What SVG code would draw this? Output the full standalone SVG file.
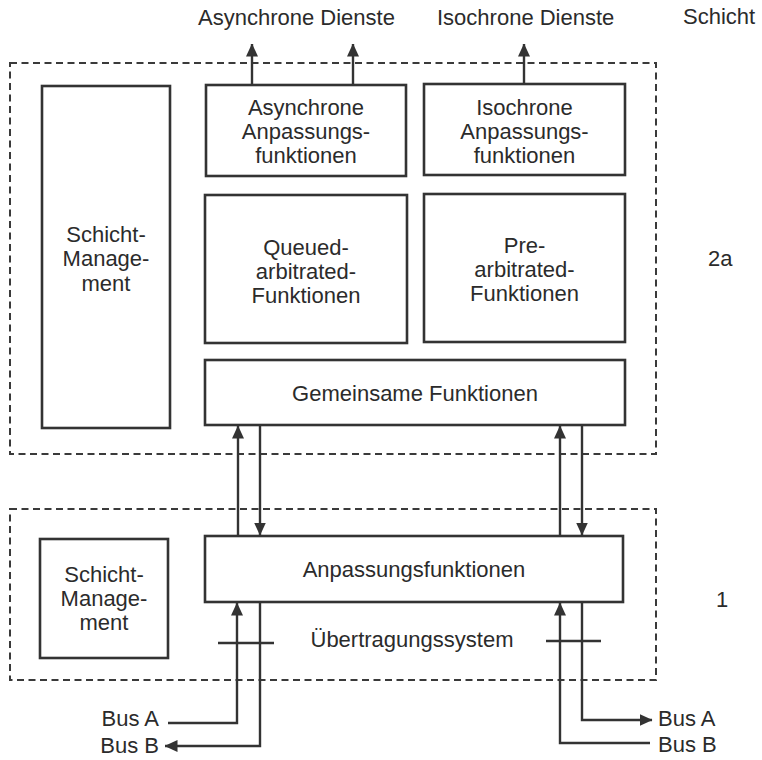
<svg xmlns="http://www.w3.org/2000/svg" width="762" height="760" viewBox="0 0 762 760">
  <style>
    .frame { fill: none; stroke: #3a3a3a; stroke-width: 2; stroke-dasharray: 7 4.5; }
    .box { fill: #ffffff; stroke: #333333; stroke-width: 2.6; }
    .wire { fill: none; stroke: #333333; stroke-width: 2.4; }
    .lbl { font-family: "Liberation Sans", Arial, sans-serif; font-size: 22px; fill: #2b2b2b; }
    .mid { text-anchor: middle; }
    .end { text-anchor: end; }
  </style>
  <defs>
    <marker id="arrow" viewBox="0 0 13 12" refX="12.5" refY="6" markerWidth="13" markerHeight="12" markerUnits="userSpaceOnUse" orient="auto">
      <path d="M0,0 L13,6 L0,12 Z" fill="#333333"/>
    </marker>
  </defs>

  <rect width="762" height="760" fill="#ffffff"/>

  <!-- layer frames -->
  <g id="layers">
    <rect class="frame" x="10" y="63" width="646" height="391"/>
    <rect class="frame" x="10" y="509" width="646" height="171"/>
  </g>

  <!-- headings and layer labels -->
  <g id="headings" class="lbl">
    <text x="198" y="25">Asynchrone Dienste</text>
    <text x="437" y="25">Isochrone Dienste</text>
    <text x="683" y="24">Schicht</text>
    <text x="708" y="266">2a</text>
    <text x="716" y="607">1</text>
  </g>

  <!-- layer 2a -->
  <g id="mgmt2a">
    <rect class="box" x="42" y="86" width="128" height="342"/>
    <text class="lbl mid" x="106" y="242">Schicht-</text>
    <text class="lbl mid" x="106" y="266">Manage-</text>
    <text class="lbl mid" x="106" y="291">ment</text>
  </g>
  <g id="async">
    <rect class="box" x="206" y="85" width="200" height="91"/>
    <text class="lbl mid" x="306" y="115">Asynchrone</text>
    <text class="lbl mid" x="306" y="139">Anpassungs-</text>
    <text class="lbl mid" x="306" y="163">funktionen</text>
  </g>
  <g id="iso">
    <rect class="box" x="424" y="84" width="201" height="91"/>
    <text class="lbl mid" x="524.5" y="115">Isochrone</text>
    <text class="lbl mid" x="524.5" y="139">Anpassungs-</text>
    <text class="lbl mid" x="524.5" y="163">funktionen</text>
  </g>
  <g id="queued">
    <rect class="box" x="205" y="195" width="202" height="148"/>
    <text class="lbl mid" x="306" y="255">Queued-</text>
    <text class="lbl mid" x="306" y="279">arbitrated-</text>
    <text class="lbl mid" x="306" y="303">Funktionen</text>
  </g>
  <g id="pre">
    <rect class="box" x="424" y="194" width="201" height="148"/>
    <text class="lbl mid" x="524.5" y="253">Pre-</text>
    <text class="lbl mid" x="524.5" y="277">arbitrated-</text>
    <text class="lbl mid" x="524.5" y="301">Funktionen</text>
  </g>
  <g id="common">
    <rect class="box" x="205" y="360" width="420" height="65"/>
    <text class="lbl mid" x="415" y="401">Gemeinsame Funktionen</text>
  </g>

  <!-- layer 1 -->
  <g id="mgmt1">
    <rect class="box" x="40" y="539" width="128" height="119"/>
    <text class="lbl mid" x="104" y="582">Schicht-</text>
    <text class="lbl mid" x="104" y="606">Manage-</text>
    <text class="lbl mid" x="104" y="630">ment</text>
  </g>
  <g id="adapt">
    <rect class="box" x="205" y="536" width="418" height="66"/>
    <text class="lbl mid" x="414" y="577">Anpassungsfunktionen</text>
  </g>
  <g id="medium">
    <text class="lbl mid" x="412" y="647">Übertragungssystem</text>
  </g>

  <!-- connectors -->
  <g id="connectors">
    <line class="wire" x1="252" y1="85" x2="252" y2="44" marker-end="url(#arrow)"/>
    <line class="wire" x1="353" y1="85" x2="353" y2="44" marker-end="url(#arrow)"/>
    <line class="wire" x1="524" y1="84" x2="524" y2="44" marker-end="url(#arrow)"/>

    <line class="wire" x1="238" y1="536" x2="238" y2="426" marker-end="url(#arrow)"/>
    <line class="wire" x1="260" y1="426" x2="260" y2="535" marker-end="url(#arrow)"/>
    <line class="wire" x1="560" y1="536" x2="560" y2="426" marker-end="url(#arrow)"/>
    <line class="wire" x1="582" y1="426" x2="582" y2="535" marker-end="url(#arrow)"/>

    <path class="wire" d="M168,723 H237 V603" marker-end="url(#arrow)"/>
    <path class="wire" d="M260,602 V746 H165" marker-end="url(#arrow)"/>
    <path class="wire" d="M650,743 H560 V603" marker-end="url(#arrow)"/>
    <path class="wire" d="M582,602 V720 H652" marker-end="url(#arrow)"/>

    <line class="wire" x1="218" y1="643" x2="274" y2="643"/>
    <line class="wire" x1="546" y1="641" x2="601" y2="641"/>
  </g>

  <!-- bus labels -->
  <g id="buses" class="lbl">
    <text class="end" x="159" y="726">Bus A</text>
    <text class="end" x="159" y="753">Bus B</text>
    <text x="658" y="726">Bus A</text>
    <text x="658" y="752">Bus B</text>
  </g>
</svg>
